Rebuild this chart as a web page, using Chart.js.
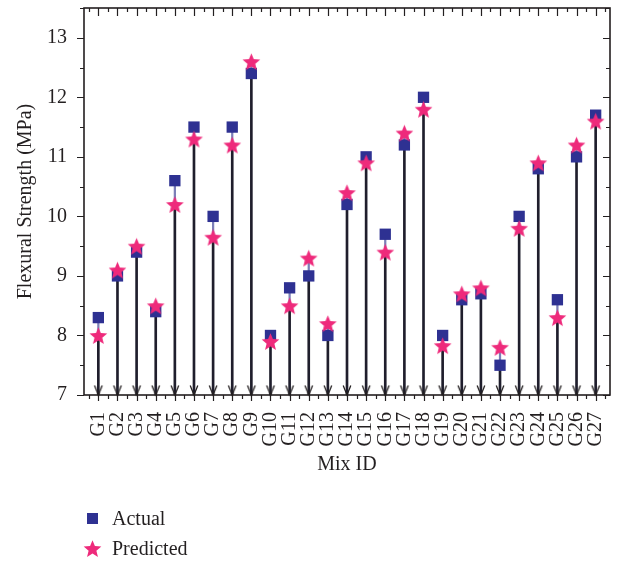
<!DOCTYPE html>
<html>
<head>
<meta charset="utf-8">
<script src="https://cdn.jsdelivr.net/npm/chart.js@4.4.0/dist/chart.umd.min.js"></script>
<style>
  html, body { margin: 0; padding: 0; background: #fff; }
  #wrap { position: relative; width: 618px; height: 562px; }
  #legend { position: absolute; left: 83px; top: 503px; font-family: "Liberation Serif", serif; font-size: 20px; color: #231f20; }
  .leg-item { display: flex; align-items: center; height: 30px; }
  .leg-icon { width: 18px; display: flex; justify-content: center; margin-right: 11px; }
</style>
</head>
<body>
<div id="wrap">
  <canvas id="chart" width="618" height="490"></canvas>
  <div id="legend"></div>
</div>
<script>
// === Data ===
const mixIds = ["G1","G2","G3","G4","G5","G6","G7","G8","G9","G10","G11","G12","G13","G14",
  "G15","G16","G17","G18","G19","G20","G21","G22","G23","G24","G25","G26","G27"];
const actual = [8.3, 9.0, 9.4, 8.4, 10.6, 11.5, 10.0, 11.5, 12.4, 8.0, 8.8, 9.0, 8.0, 10.2,
  11.0, 9.7, 11.2, 12.0, 8.0, 8.6, 8.7, 7.5, 10.0, 10.8, 8.6, 11.0, 11.7];
const predicted = [8.0, 9.1, 9.5, 8.5, 10.2, 11.3, 9.65, 11.2, 12.6, 7.9, 8.5, 9.3, 8.2, 10.4,
  10.9, 9.4, 11.4, 11.8, 7.83, 8.7, 8.8, 7.8, 9.8, 10.9, 8.3, 11.2, 11.6];
const yTicks = [7, 8, 9, 10, 11, 12, 13];
const yMin = 7, yMax = 13.5;
const xMin = 0.25, xMax = 27.75;

// === Colours ===
const INK = "#231f20";
const BLUE = "#2e3192";
const PINK = "#ee2a7b";
const FONT = "'Liberation Serif', 'Times New Roman', serif";

// === Marker images ===
function starImage(r, color) {
  const c = document.createElement("canvas");
  const s = Math.ceil(r * 2) + 2;
  c.width = c.height = s;
  const g = c.getContext("2d");
  const cx = s / 2, cy = s / 2 + r * 0.1;
  g.beginPath();
  for (let i = 0; i < 10; i++) {
    const rad = i % 2 ? r * 0.44 : r;
    const a = -Math.PI / 2 + i * Math.PI / 5;
    g.lineTo(cx + rad * Math.cos(a), cy + rad * Math.sin(a));
  }
  g.closePath();
  g.fillStyle = color;
  g.fill();
  return c;
}

function arrowImage() {
  // tip sits at the canvas centre so it lands on the data point
  const c = document.createElement("canvas");
  c.width = 12; c.height = 22;
  const g = c.getContext("2d");
  g.strokeStyle = INK;
  g.lineWidth = 1.3;
  g.beginPath();
  g.moveTo(2.2, 1.5);
  g.lineTo(6, 11);
  g.lineTo(9.8, 1.5);
  g.stroke();
  return c;
}

const starImg = starImage(9.3, PINK);
const arrowImg = arrowImage();

// === Build point lists ===
const xs = mixIds.map((_, i) => i + 1);
const stemData = xs.map((x, i) => ({ x, y: [yMin, Math.min(actual[i], predicted[i])] }));
const linkData = xs.map((x, i) => ({ x, y: [Math.min(actual[i], predicted[i]), Math.max(actual[i], predicted[i])] }));
const arrowData = xs.map(x => ({ x, y: yMin }));
const actualData = xs.map((x, i) => ({ x, y: actual[i] }));
const predData = xs.map((x, i) => ({ x, y: predicted[i] }));

// === Frame with inner/outer ticks (major + minor) ===
const frameTicks = {
  id: "frameTicks",
  afterDatasetsDraw(chart) {
    const { ctx, chartArea: a, scales: { x, y } } = chart;
    ctx.save();
    ctx.strokeStyle = INK;
    ctx.lineWidth = 1.2;
    ctx.beginPath();
    for (let v = yMin; v <= yMax + 0.01; v += 0.5) {
      const py = Math.round(y.getPixelForValue(v)) + 0.5;
      const len = Number.isInteger(v) ? 7 : 4;
      ctx.moveTo(a.left, py); ctx.lineTo(a.left - len, py);
      ctx.moveTo(a.right, py); ctx.lineTo(a.right - len, py);
    }
    for (let v = 0.5; v < xMax; v += 0.5) {
      const px = Math.round(x.getPixelForValue(v)) + 0.5;
      const major = Number.isInteger(v);
      ctx.moveTo(px, a.top); ctx.lineTo(px, a.top + (major ? 8 : 4));
      ctx.moveTo(px, a.bottom); ctx.lineTo(px, a.bottom + (major ? 6 : 4));
    }
    ctx.stroke();
    ctx.lineWidth = 1.6;
    ctx.strokeRect(a.left, a.top, a.right - a.left, a.bottom - a.top);
    ctx.restore();
  }
};

// === Chart ===
new Chart(document.getElementById("chart"), {
  type: "scatter",
  data: {
    datasets: [
      {
        label: "Predicted",
        data: predData,
        pointStyle: starImg,
        order: 0,
        clip: false,
      },
      {
        label: "Actual",
        data: actualData,
        pointStyle: "rect",
        pointRadius: 8,
        backgroundColor: BLUE,
        borderWidth: 0,
        order: 1,
        clip: false,
      },
      {
        type: "bar",
        label: "link",
        data: linkData,
        backgroundColor: "#7c7fb8",
        barThickness: 1.6,
        grouped: false,
        order: 2,
      },
      {
        label: "arrow",
        data: arrowData,
        pointStyle: arrowImg,
        order: 3,
        clip: false,
      },
      {
        type: "bar",
        label: "stem",
        data: stemData,
        backgroundColor: "#1f1e2c",
        barThickness: 2,
        grouped: false,
        order: 4,
      },
    ],
  },
  options: {
    responsive: false,
    animation: false,
    layout: { padding: { top: 5, right: 7, left: 0, bottom: 0 } },
    plugins: { legend: { display: false }, tooltip: { enabled: false } },
    scales: {
      x: {
        type: "linear",
        offset: false,
        min: xMin,
        max: xMax,
        afterBuildTicks: s => { s.ticks = xs.map(v => ({ value: v })); },
        afterFit: s => { s.height = 95; s.paddingLeft = 0; s.paddingRight = 0; },
        grid: { display: false, drawTicks: false, offset: false },
        border: { display: false },
        ticks: {
          callback: v => mixIds[v - 1] || "",
          autoSkip: false,
          minRotation: 90,
          maxRotation: 90,
          padding: 17,
          color: INK,
          font: { family: FONT, size: 20 },
        },
        title: {
          display: true,
          text: "Mix ID",
          color: INK,
          font: { family: FONT, size: 20 },
          padding: { top: 0, bottom: 13 },
        },
      },
      y: {
        min: yMin,
        max: yMax,
        afterBuildTicks: s => { s.ticks = yTicks.map(v => ({ value: v })); },
        afterFit: s => { s.width = 84; s.paddingTop = 0; s.paddingBottom = 0; },
        grid: { display: false, drawTicks: false },
        border: { display: false },
        ticks: {
          padding: 17,
          color: INK,
          font: { family: FONT, size: 20 },
        },
        title: {
          display: true,
          text: "Flexural Strength (MPa)",
          color: INK,
          font: { family: FONT, size: 20 },
          padding: { top: 14, bottom: 0 },
        },
      },
    },
  },
  plugins: [frameTicks],
});

// === Legend (HTML) ===
const legend = document.getElementById("legend");
[
  { text: "Actual", icon: () => { const c = document.createElement("canvas"); c.width = c.height = 11; const g = c.getContext("2d"); g.fillStyle = BLUE; g.fillRect(0, 0, 11, 11); return c; } },
  { text: "Predicted", icon: () => starImage(9.3, PINK) },
].forEach(item => {
  const row = document.createElement("div");
  row.className = "leg-item";
  const ic = document.createElement("span");
  ic.className = "leg-icon";
  ic.appendChild(item.icon());
  const tx = document.createElement("span");
  tx.textContent = item.text;
  row.appendChild(ic);
  row.appendChild(tx);
  legend.appendChild(row);
});
</script>
</body>
</html>
